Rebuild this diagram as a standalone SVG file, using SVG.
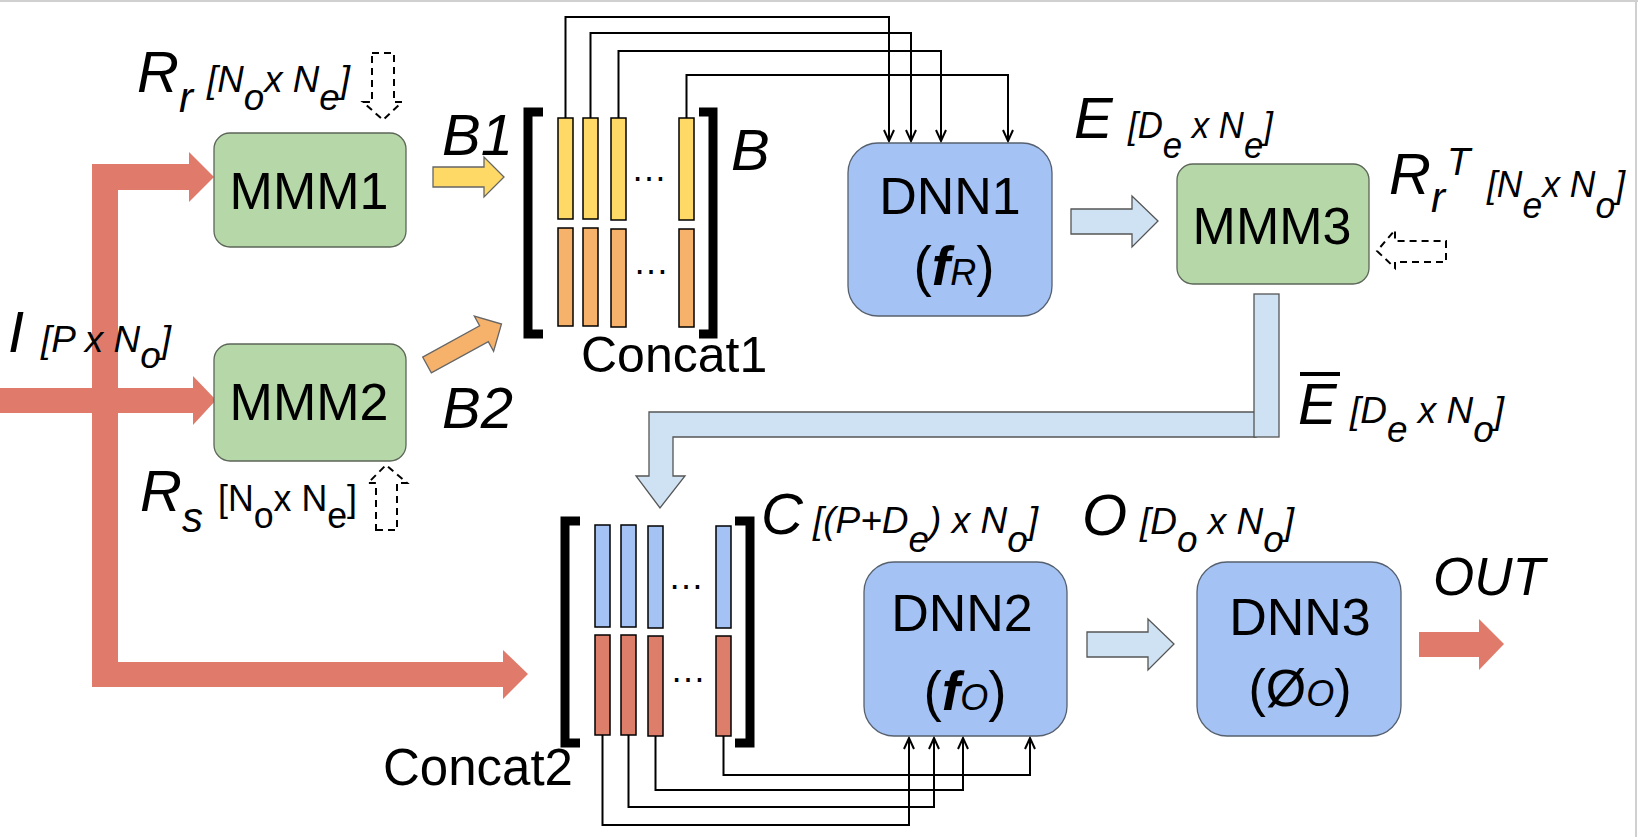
<svg xmlns="http://www.w3.org/2000/svg" width="1638" height="837" viewBox="0 0 1638 837">
<style>
.t{font-family:"Liberation Sans",Arial,sans-serif;fill:#000}
.big{font-size:58px;font-style:italic}
.dim{font-size:36px;font-style:italic}
.up{font-size:36px}
.box{font-size:52px;text-anchor:middle}
.fn{font-size:55px;text-anchor:middle}
.mmm{fill:#b6d7a8;stroke:#5c6658;stroke-width:1.3}
.dnn{fill:#a4c2f4;stroke:#56606e;stroke-width:1.3}
.red{fill:#e07b6b}
.lb{fill:#cfe2f3;stroke:#555;stroke-width:1.3}
.dash{fill:none;stroke:#000;stroke-width:2;stroke-dasharray:7 5}
.conn{fill:none;stroke:#000;stroke-width:2;marker-end:url(#ah)}
.brk{fill:none;stroke:#000;stroke-width:9}
.bar{stroke:#000;stroke-width:1.5}
.y{fill:#ffd966}.o{fill:#f6b26b}.b{fill:#a4c2f4}.r{fill:#dd7e6b}
</style>
<defs>
<marker id="ah" markerUnits="userSpaceOnUse" markerWidth="14" markerHeight="14" viewBox="0 0 14 14" refX="12" refY="7" orient="auto">
<path d="M1,2 L12,7 L1,12" fill="none" stroke="#000" stroke-width="2"/>
</marker>
</defs>
<rect width="1638" height="837" fill="#fff"/>
<line x1="0" y1="1" x2="1638" y2="1" stroke="#d0d0d0" stroke-width="2"/>
<line x1="1636" y1="0" x2="1636" y2="837" stroke="#d0d0d0" stroke-width="2"/>

<g id="connectors">
<rect class="red" x="92" y="164" width="26" height="523"/>
<polygon class="red" points="92,164 189,164 189,152 214,177 189,202 189,190 92,190"/>
<polygon class="red" points="0,388 193,388 193,376 216,400 193,425 193,413 0,413"/>
<polygon class="red" points="92,662 503,662 503,650 528,674 503,699 503,687 92,687"/>
<polygon points="433,167 484,167 484,157 504,177 484,197 484,187 433,187" fill="#ffd966" stroke="#666" stroke-width="1.3"/>
<polygon transform="translate(427,365) rotate(-28.8)" points="0,-9 65,-9 65,-20 85,0 65,20 65,9 0,9" fill="#f6b26b" stroke="#666" stroke-width="1.3"/>
<polygon class="lb" points="1071,209 1132,209 1132,196 1158,221 1132,247 1132,234 1071,234"/>
<polygon class="lb" points="1256,412 649,412 649,476 636,476 660,508 685,476 673,476 673,437 1256,437"/>
<rect class="lb" x="1254" y="294" width="25" height="143"/>
<polygon class="lb" points="1087,632 1148,632 1148,619 1174,644 1148,670 1148,657 1087,657"/>
<polygon class="red" points="1419,632 1479,632 1479,619 1504,644 1479,670 1479,657 1419,657"/>
<polygon class="dash" points="372,53 394,53 394,102 402,102 383,120 363,102 372,102"/>
<polygon class="dash" points="376,530 397,530 397,483 407,483 386,465 368,483 376,483"/>
<polygon class="dash" points="1446,241 1446,262 1395,262 1395,268 1377,251 1395,230 1395,241"/>
<path class="conn" d="M565.5,118 V17 H889 V141"/>
<path class="conn" d="M590.5,118 V33 H911 V141"/>
<path class="conn" d="M618.5,118 V51 H941 V141"/>
<path class="conn" d="M686.5,118 V75 H1008 V141"/>
<path class="conn" d="M602.5,735 V825 H909 V738"/>
<path class="conn" d="M628.5,735 V807 H934 V738"/>
<path class="conn" d="M655.5,735 V790 H963 V738"/>
<path class="conn" d="M723.5,735 V775 H1030 V738"/>
</g>

<g id="MMM1">
<rect class="mmm" x="214" y="133" width="192" height="114" rx="16"/>
<text class="t box" x="309" y="209">MMM1</text>
</g>
<g id="MMM2">
<rect class="mmm" x="214" y="344" width="192" height="117" rx="16"/>
<text class="t box" x="309" y="420">MMM2</text>
</g>
<g id="MMM3">
<rect class="mmm" x="1177" y="164" width="192" height="120" rx="16"/>
<text class="t box" x="1272" y="244">MMM3</text>
</g>
<g id="DNN1">
<rect class="dnn" x="848" y="143" width="204" height="173" rx="30"/>
<text class="t box" x="950" y="214">DNN1</text>
<text class="t fn" x="954" y="285">(<tspan font-style="italic" font-weight="bold">f</tspan><tspan font-size="36" font-style="italic">R</tspan>)</text>
</g>
<g id="DNN2">
<rect class="dnn" x="864" y="562" width="203" height="174" rx="30"/>
<text class="t box" x="962" y="631">DNN2</text>
<text class="t fn" x="965" y="710">(<tspan font-style="italic" font-weight="bold">f</tspan><tspan font-size="36" font-style="italic">O</tspan>)</text>
</g>
<g id="DNN3">
<rect class="dnn" x="1197" y="562" width="204" height="174" rx="30"/>
<text class="t box" x="1300" y="635">DNN3</text>
<text class="t box" x="1300" y="706">(Ø<tspan font-size="36" font-style="italic">O</tspan>)</text>
</g>

<g id="Concat1">
<path class="brk" d="M543,112 H528 V334 H543"/>
<path class="brk" d="M699,112 H713 V334 H699"/>
<rect class="bar y" x="558" y="118" width="15" height="101"/>
<rect class="bar y" x="583" y="118" width="15" height="101"/>
<rect class="bar y" x="611" y="118" width="15" height="102"/>
<rect class="bar y" x="679" y="118" width="15" height="102"/>
<rect class="bar o" x="558" y="228" width="15" height="98"/>
<rect class="bar o" x="583" y="228" width="15" height="98"/>
<rect class="bar o" x="611" y="229" width="15" height="98"/>
<rect class="bar o" x="679" y="229" width="15" height="98"/>
<text class="t" x="631" y="181" font-size="36">…</text>
<text class="t" x="633" y="274" font-size="36">…</text>
<text class="t" x="581" y="372" font-size="50">Concat1</text>
<text class="t big" x="731" y="170">B</text>
</g>

<g id="Concat2">
<path class="brk" d="M580,521 H565 V743 H580"/>
<path class="brk" d="M735,521 H750 V743 H735"/>
<rect class="bar b" x="595" y="525" width="15" height="102"/>
<rect class="bar b" x="621" y="525" width="15" height="102"/>
<rect class="bar b" x="648" y="526" width="15" height="102"/>
<rect class="bar b" x="716" y="526" width="15" height="102"/>
<rect class="bar r" x="595" y="635" width="15" height="100"/>
<rect class="bar r" x="621" y="635" width="15" height="100"/>
<rect class="bar r" x="648" y="636" width="15" height="100"/>
<rect class="bar r" x="716" y="636" width="15" height="100"/>
<text class="t" x="668" y="589" font-size="36">…</text>
<text class="t" x="670" y="682" font-size="36">…</text>
<text class="t" x="383" y="785" font-size="51">Concat2</text>
</g>

<g id="labels">
<text class="t big" x="137" y="92">R<tspan dy="20" font-size="42">r</tspan></text>
<text class="t dim" x="207" y="92" textLength="143" lengthAdjust="spacingAndGlyphs">[N<tspan dy="18">o</tspan><tspan dy="-18">x N</tspan><tspan dy="18">e</tspan><tspan dy="-18">]</tspan></text>

<text class="t big" x="442" y="155">B1</text>
<text class="t big" x="442" y="428">B2</text>

<text class="t big" x="8" y="352">I</text>
<text class="t dim" x="41" y="352" textLength="130" lengthAdjust="spacingAndGlyphs">[P x N<tspan dy="16">o</tspan><tspan dy="-16">]</tspan></text>

<text class="t big" x="140" y="511">R<tspan dy="21" font-size="42">s</tspan></text>
<text class="t up" x="218" y="511" textLength="139" lengthAdjust="spacingAndGlyphs">[N<tspan dy="17">o</tspan><tspan dy="-17">x N</tspan><tspan dy="17">e</tspan><tspan dy="-17">]</tspan></text>

<text class="t big" x="1074" y="138">E</text>
<text class="t dim" x="1128" y="138" textLength="145" lengthAdjust="spacingAndGlyphs">[D<tspan dy="20">e</tspan><tspan dy="-20"> x N</tspan><tspan dy="20">e</tspan><tspan dy="-20">]</tspan></text>

<text class="t big" x="1389" y="194">R</text>
<text class="t" x="1447" y="175" font-size="38" font-style="italic">T</text>
<text class="t" x="1431" y="212" font-size="42" font-style="italic">r</text>
<text class="t dim" x="1487" y="197" textLength="138" lengthAdjust="spacingAndGlyphs">[N<tspan dy="21">e</tspan><tspan dy="-21">x N</tspan><tspan dy="21">o</tspan><tspan dy="-21">]</tspan></text>

<text class="t big" x="1298" y="424">E</text>
<line x1="1300" y1="374" x2="1340" y2="374" stroke="#000" stroke-width="4"/>
<text class="t dim" x="1350" y="423" textLength="154" lengthAdjust="spacingAndGlyphs">[D<tspan dy="19">e</tspan><tspan dy="-19"> x N</tspan><tspan dy="19">o</tspan><tspan dy="-19">]</tspan></text>

<text class="t big" x="761" y="534">C</text>
<text class="t dim" x="813" y="533" textLength="225" lengthAdjust="spacingAndGlyphs">[(P+D<tspan dy="19">e</tspan><tspan dy="-19">) x N</tspan><tspan dy="19">o</tspan><tspan dy="-19">]</tspan></text>

<text class="t big" x="1082" y="535">O</text>
<text class="t dim" x="1140" y="534" textLength="154" lengthAdjust="spacingAndGlyphs">[D<tspan dy="18">o</tspan><tspan dy="-18"> x N</tspan><tspan dy="18">o</tspan><tspan dy="-18">]</tspan></text>

<text class="t" x="1433" y="595" font-size="53" font-style="italic">OUT</text>
</g>
</svg>
